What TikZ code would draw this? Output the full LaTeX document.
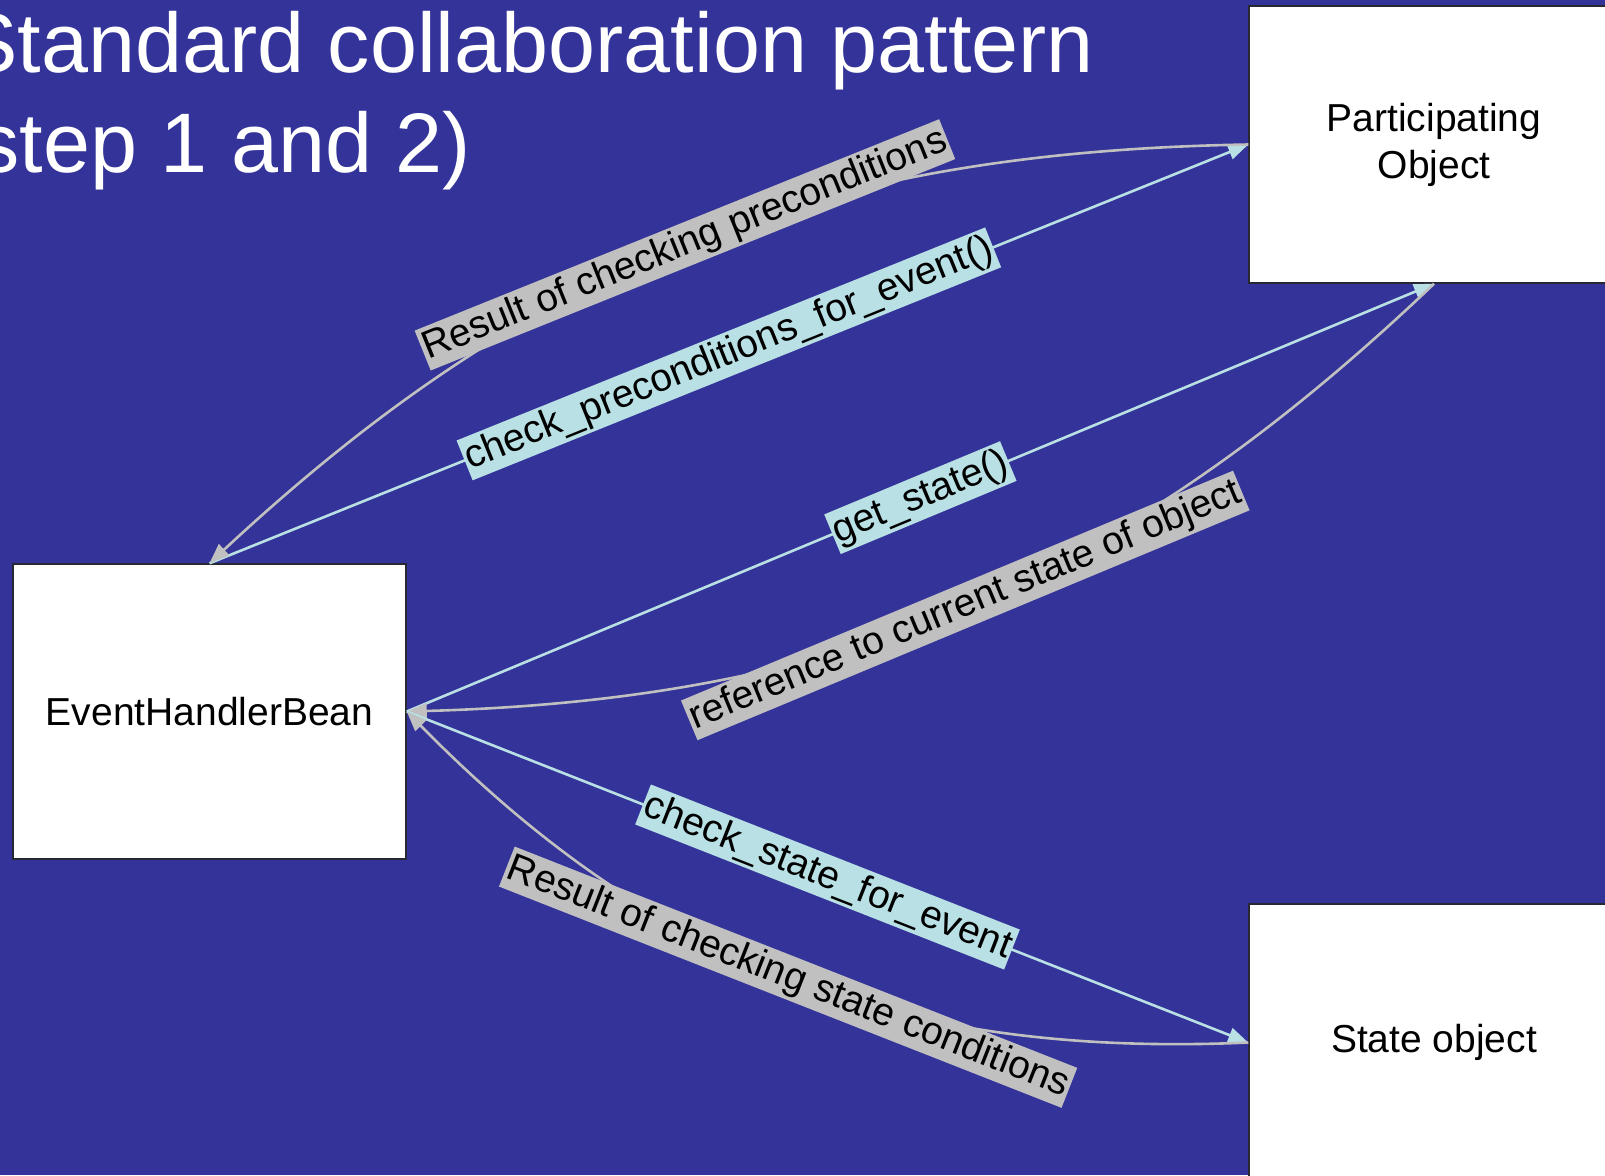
\documentclass[tikz,border=0pt]{standalone}
\usepackage{fontspec}
\setmainfont{Liberation Sans}
\usetikzlibrary{arrows.meta}

\definecolor{slidebg}{RGB}{51,51,153}
\definecolor{callblue}{RGB}{185,224,228}
\definecolor{replygrey}{RGB}{192,192,192}
\definecolor{boxedge}{RGB}{40,40,50}

\begin{document}
% one coordinate unit = 1/3 pt
\begin{tikzpicture}[x=0.33333pt,y=-0.33333pt,
  objbox/.style={draw=boxedge, line width=0.5pt, fill=white, inner sep=0pt,
    align=center, font=\fontsize{13}{15.67}\selectfont},
  callarrow/.style={draw=callblue, line width=0.87pt,
    -{Triangle[length=6.67pt,width=5pt,fill=callblue]}},
  replyarrow/.style={draw=replygrey, line width=0.87pt,
    -{Triangle[length=6.67pt,width=5pt,fill=replygrey]}},
  edgelabel/.style={sloped, midway, inner xsep=0.67pt, inner ysep=0.83pt,
    text height=9.83pt, text depth=2.83pt, text=black,
    font=\fontsize{13}{15.67}\selectfont},
  calllabel/.style={edgelabel, fill=callblue},
  replylabel/.style={edgelabel, fill=replygrey},
  titletext/.style={anchor=base west, inner sep=0pt, text=white,
    font=\fontsize{28.17}{33.3}\selectfont}]

  % slide background and page frame
  \useasboundingbox (0,0) rectangle (1605,1175);
  \fill[slidebg] (0,0) rectangle (1605,1175);

  % title
  \node[titletext] (title1) at (-39,72) {Standard collaboration pattern};
  \node[titletext] (title2) at (-51,172) {(step 1 and 2)};

  % objects
  \node[objbox, minimum width=131pt, minimum height=98.33pt] (ehb) at (209.5,711.5) {EventHandlerBean};
  \node[objbox, minimum width=123.33pt, minimum height=92.33pt] (po) at (1434,144.5) {Participating\\Object};
  \node[objbox, minimum width=123.33pt, minimum height=92.33pt] (so) at (1434,1042.5) {State object};

  % messages and replies
  \draw[callarrow] (ehb.north) -- node[calllabel] {check\_preconditions\_for\_event()} (po.west);
  \draw[replyarrow] (po.west) to[bend right=21] node[replylabel] {Result of checking preconditions} (ehb.north);
  \draw[callarrow] (ehb.east) -- node[calllabel] {get\_state()} (po.south);
  \draw[replyarrow] (po.south) to[bend left=21] node[replylabel] {reference to current state of object} (ehb.east);
  \draw[callarrow] (ehb.east) -- node[calllabel] {check\_state\_for\_event} (so.west);
  \draw[replyarrow] (so.west) to[bend left=24] node[replylabel] {Result of checking state conditions} (ehb.east);
\end{tikzpicture}
\end{document}
